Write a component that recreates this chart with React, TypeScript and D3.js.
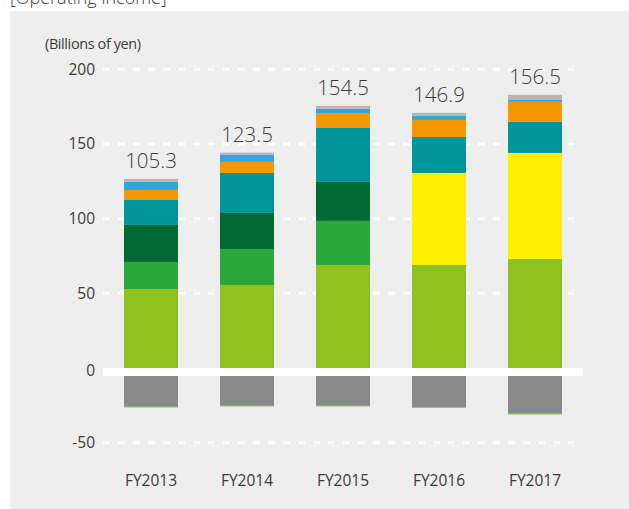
import * as d3 from "d3";
import React from "react";

const years = ["FY2013", "FY2014", "FY2015", "FY2016", "FY2017"];
const totals = ["105.3", "123.5", "154.5", "146.9", "156.5"];

// stacked from bottom to top
const lime = [52.9, 55.6, 69.0, 69.0, 73.0];
const green = [18.1, 24.1, 29.5, 0, 0];
const darkGreen = [24.8, 24.1, 26.1, 0, 0];
const yellow = [0, 0, 0, 61.6, 71.0];
const teal = [16.7, 26.8, 36.1, 24.1, 20.8];
const orange = [6.7, 7.4, 9.6, 11.4, 13.4];
const blue = [5.4, 4.7, 3.2, 2.7, 1.3];
const grey = [2.0, 1.5, 2.0, 2.0, 3.4];

// below zero
const adjust = [-20.6, -19.9, -19.9, -21.2, -25.0];
const adjustGreen = [-0.4, -0.4, -0.4, 0, -0.7];

const yTicks = [200, 150, 100, 50, 0, -50];

const W = 629;
const H = 509;
const font = "'Open Sans', sans-serif";
const ink = "#3e3a39";

export default function App() {
  const x = d3
    .scaleBand<string>()
    .domain(years)
    .range([103, 583])
    .paddingInner(0.4375)
    .paddingOuter(0.21875);
  const y = d3.scaleLinear().domain([0, 200]).range([368, 69.3]);
  const gap = 8; // white zero band

  const posSeries = [
    { key: "lime", vals: lime, color: "#8dc21f" },
    { key: "green", vals: green, color: "#2ca73a" },
    { key: "darkGreen", vals: darkGreen, color: "#006934" },
    { key: "yellow", vals: yellow, color: "#fff100" },
    { key: "teal", vals: teal, color: "#00959a" },
    { key: "orange", vals: orange, color: "#f39800" },
    { key: "blue", vals: blue, color: "#2ea7e0" },
    { key: "grey", vals: grey, color: "#b5b5b5" },
  ];
  const negSeries = [
    { key: "adjust", vals: adjust, color: "#898989" },
    { key: "adjustGreen", vals: adjustGreen, color: "#5cb531" },
  ];

  const rows = years.map((yr, i) => {
    const r: any = { year: yr };
    posSeries.forEach((s) => (r[s.key] = s.vals[i]));
    negSeries.forEach((s) => (r[s.key] = s.vals[i]));
    return r;
  });
  const allKeys = [...posSeries, ...negSeries];
  const stacked = d3
    .stack<any>()
    .keys(allKeys.map((s) => s.key))
    .offset(d3.stackOffsetDiverging)(rows);

  const tops = years.map((_, i) => d3.sum(posSeries, (s) => s.vals[i]));
  const yNeg = (v: number) => y(v) + gap;

  return (
    <svg
      width={W}
      height={H}
      style={{ position: "absolute", left: 0, top: 0 }}
      fontFamily={font}
    >
      <rect x={0} y={0} width={W} height={H} fill="#ffffff" />
      <text x={10} y={3.5} fontSize={18} fill={ink} fontWeight={300}>
        [Operating income]
      </text>
      <rect x={10} y={11} width={W - 10} height={H - 11} fill="#eeeeee" />

      <text x={45} y={49} fontSize={14.5} fill={ink} letterSpacing={-0.4}>
        (Billions of yen)
      </text>

      {yTicks
        .filter((t) => t !== 0)
        .map((t) => (
          <line
            key={t}
            x1={103}
            x2={583}
            y1={y(t)}
            y2={y(t)}
            stroke="#ffffff"
            strokeWidth={3}
            strokeDasharray="7 8"
          />
        ))}
      {yTicks.map((t) => (
        <text
          key={"l" + t}
          x={95}
          y={t === 0 ? y(0) + gap / 2 - 1 : y(t)}
          dy="0.35em"
          textAnchor="end"
          fontSize={15.5}
          fill={ink}
        >
          {t}
        </text>
      ))}

      {stacked.map((layer, li) => {
        const s = allKeys[li];
        return (
          <g key={s.key} fill={s.color}>
            {layer.map((d, i) => {
              const v0 = d[0];
              const v1 = d[1];
              if (v1 - v0 === 0) return null;
              const neg = v1 <= 0 && v0 < 0;
              const yTop = neg ? yNeg(v1) : y(v1);
              const yBot = neg ? yNeg(v0) : y(v0);
              return (
                <rect
                  key={i}
                  x={x(years[i])}
                  width={x.bandwidth()}
                  y={yTop}
                  height={yBot - yTop}
                />
              );
            })}
          </g>
        );
      })}

      <rect x={103} y={y(0)} width={480} height={gap} fill="#ffffff" />

      {years.map((yr, i) => (
        <text
          key={"t" + yr}
          x={x(yr)! + x.bandwidth() / 2}
          y={y(tops[i]) - 11}
          textAnchor="middle"
          fontSize={20.5}
          fontWeight={300}
          fill={ink}
        >
          {totals[i]}
        </text>
      ))}

      {years.map((yr) => (
        <text
          key={"x" + yr}
          x={x(yr)! + x.bandwidth() / 2}
          y={486}
          textAnchor="middle"
          fontSize={15.5}
          fill={ink}
        >
          {yr}
        </text>
      ))}
    </svg>
  );
}
